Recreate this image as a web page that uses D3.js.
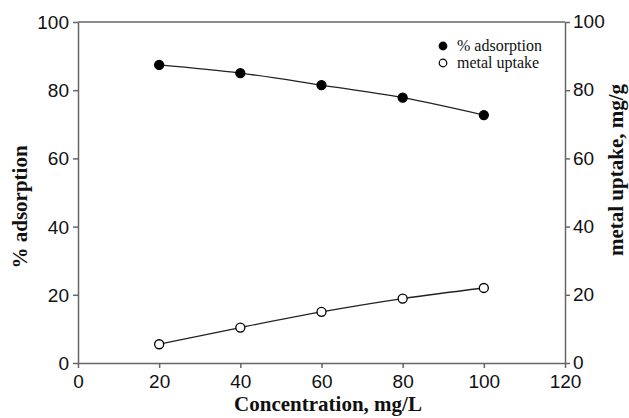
<!DOCTYPE html>
<html>
<head>
<meta charset="utf-8">
<script src="https://cdn.jsdelivr.net/npm/d3@7"></script>
<style>
  body { margin: 0; background: #fff; }
  svg { display: block; }
</style>
</head>
<body>
<div id="chart"></div>
<script>
const concentration = [20, 40, 60, 80, 100];
const adsorption = [87.4, 85.0, 81.5, 77.8, 72.7];
const uptake = [5.5, 10.4, 15.0, 18.9, 22.0];
const xTicks = [0, 20, 40, 60, 80, 100, 120];
const yTicks = [0, 20, 40, 60, 80, 100];

const width = 629, height = 418;
const margin = { top: 22, right: 64, bottom: 55, left: 78 };
const w = width - margin.left - margin.right,
      h = height - margin.top - margin.bottom;

const svg = d3.select("#chart")
    .append("svg")
    .attr("width", width)
    .attr("height", height);

const g = svg.append("g")
    .attr("transform", `translate(${margin.left},${margin.top})`);

const x = d3.scaleLinear().domain([0, 120]).range([0, w]);
const yL = d3.scaleLinear().domain([0, 100]).range([h, 0]);
const yR = d3.scaleLinear().domain([0, 100]).range([h, 0]);

const axisColor = "#666";

// frame top line
g.append("line")
    .attr("x1", 0).attr("x2", w)
    .attr("y1", 0).attr("y2", 0)
    .attr("stroke", axisColor).attr("stroke-width", 1.5);

function styleAxis(sel) {
    sel.select(".domain").attr("stroke", axisColor).attr("stroke-width", 1.5);
    sel.selectAll(".tick line").attr("stroke", axisColor).attr("stroke-width", 1.5);
    sel.selectAll("text")
        .attr("fill", "#111")
        .style("font-family", "'Liberation Sans', Arial, sans-serif")
        .style("font-size", "19px");
}

g.append("g")
    .attr("transform", `translate(0,${h})`)
    .call(d3.axisBottom(x).tickValues(xTicks).tickSize(5).tickSizeOuter(0).tickPadding(7))
    .call(styleAxis);

g.append("g")
    .call(d3.axisLeft(yL).tickValues(yTicks).tickSize(5).tickSizeOuter(0).tickPadding(4))
    .call(styleAxis)
    .selectAll("text").attr("dy", "0.34em");

g.append("g")
    .attr("transform", `translate(${w},0)`)
    .call(d3.axisRight(yR).tickValues(yTicks).tickSize(5).tickSizeOuter(0).tickPadding(3))
    .call(styleAxis)
    .selectAll("text").attr("dy", "0.3em");

const line = d3.line().curve(d3.curveMonotoneX);

const series = [
    { vals: adsorption, scale: yL, fill: "#000" },
    { vals: uptake, scale: yR, fill: "#fff" }
];

series.forEach(s => {
    const pts = concentration.map((c, i) => [x(c), s.scale(s.vals[i])]);
    g.append("path")
        .attr("d", line(pts))
        .attr("fill", "none")
        .attr("stroke", "#222")
        .attr("stroke-width", 1.3);
    g.selectAll(null)
        .data(pts)
        .enter().append("circle")
        .attr("cx", d => d[0])
        .attr("cy", d => d[1])
        .attr("r", 4.5)
        .attr("fill", s.fill)
        .attr("stroke", "#000")
        .attr("stroke-width", 1.3);
});

// legend
const legend = svg.append("g").attr("transform", "translate(443,46)");
[["% adsorption", "#000"], ["metal uptake", "#fff"]].forEach((d, i) => {
    legend.append("circle")
        .attr("cx", 0).attr("cy", i * 17)
        .attr("r", 3.8)
        .attr("fill", d[1]).attr("stroke", "#000").attr("stroke-width", 1.2);
    legend.append("text")
        .attr("x", 14).attr("y", i * 17)
        .attr("dy", "0.3em")
        .style("font-family", "'Liberation Serif', 'Times New Roman', serif")
        .style("font-size", "16px")
        .attr("fill", "#111")
        .text(d[0]);
});

const titleStyle = sel => sel
    .style("font-family", "'Liberation Serif', 'Times New Roman', serif")
    .style("font-weight", "bold")
    .style("font-size", "21px")
    .attr("fill", "#111")
    .attr("text-anchor", "middle");

svg.append("text")
    .attr("x", 328).attr("y", 411)
    .call(titleStyle)
    .text("Concentration, mg/L");

svg.append("text")
    .attr("transform", "translate(27,207) rotate(-90)")
    .call(titleStyle)
    .text("% adsorption");

svg.append("text")
    .attr("transform", "translate(623,170) rotate(-90)")
    .call(titleStyle)
    .text("metal uptake, mg/g");
</script>
</body>
</html>
